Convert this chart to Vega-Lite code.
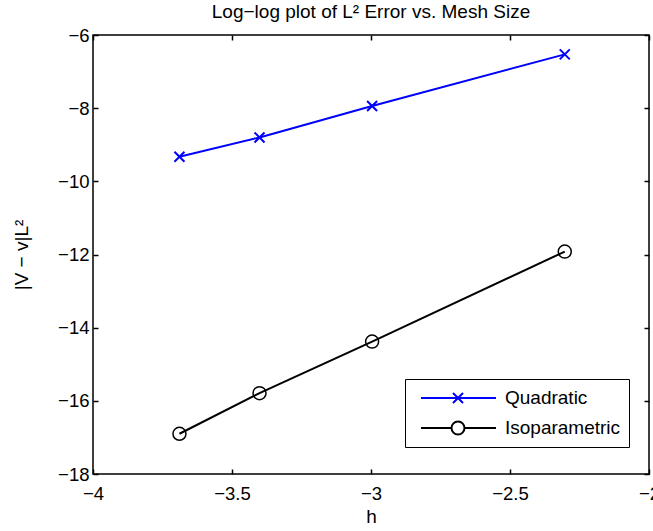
{
  "$schema": "https://vega.github.io/schema/vega-lite/v6.json",
  "width": 556,
  "height": 439,
  "autosize": {"type": "none"},
  "padding": {"left": 93, "top": 35, "right": 4, "bottom": 57},
  "background": "white",
  "config": {
    "font": "Liberation Sans",
    "view": {"stroke": "black", "strokeWidth": 1.5},
    "axis": {
      "grid": false,
      "domain": false,
      "tickColor": "black",
      "tickSize": -5,
      "tickWidth": 1.5,
      "labelColor": "black",
      "labelFontSize": 18.5,
      "labelFont": "Liberation Sans",
      "titleFont": "Liberation Sans",
      "titleFontSize": 19,
      "titleFontWeight": "normal",
      "titleColor": "black",
      "format": "~g"
    }
  },
  "title": {
    "text": "Log−log plot of L² Error vs. Mesh Size",
    "fontSize": 19,
    "fontWeight": "normal",
    "font": "Liberation Sans",
    "color": "black",
    "offset": 4
  },
  "data": {
    "values": [
      {"h": -3.689, "err": -9.33, "series": "Quadratic"},
      {"h": -3.401, "err": -8.80, "series": "Quadratic"},
      {"h": -2.996, "err": -7.94, "series": "Quadratic"},
      {"h": -2.303, "err": -6.53, "series": "Quadratic"},
      {"h": -3.689, "err": -16.90, "series": "Isoparametric"},
      {"h": -3.401, "err": -15.79, "series": "Isoparametric"},
      {"h": -2.996, "err": -14.38, "series": "Isoparametric"},
      {"h": -2.303, "err": -11.92, "series": "Isoparametric"}
    ]
  },
  "layer": [
    {
      "mark": {"type": "line", "strokeWidth": 2},
      "encoding": {
        "x": {"field": "h", "type": "quantitative", "scale": {"domain": [-4, -2], "nice": false, "zero": false},
              "axis": {"title": "h", "values": [-4, -3.5, -3, -2.5, -2], "labelPadding": 15, "titlePadding": 5, "labelFlush": false, "format": "~g"}},
        "y": {"field": "err", "type": "quantitative", "scale": {"domain": [-18, -6], "nice": false, "zero": false},
              "axis": {"title": "|V − v|L²", "values": [-18, -16, -14, -12, -10, -8, -6], "labelPadding": 9, "titlePadding": 26, "format": "~g"}},
        "color": {
          "field": "series", "type": "nominal",
          "scale": {"domain": ["Quadratic", "Isoparametric"], "range": ["#0000ff", "#000000"]},
          "legend": {
            "title": null,
            "orient": "none",
            "legendX": 312,
            "legendY": 344,
            "strokeColor": "black",
            "fillColor": "white",
            "padding": 8,
            "symbolSize": 400,
            "symbolStrokeWidth": 2,
            "symbolFillColor": "transparent",
            "labelFontSize": 19,
            "labelFont": "Liberation Sans",
            "labelColor": "black",
            "labelOffset": 70,
            "rowPadding": 9,
            "encode": {
              "symbols": {
                "update": {
                  "shape": {"signal": "datum.value == 'Quadratic' ? 'M-0.3,0H7.2M2.9,-0.5L3.9,0.5M2.9,0.5L3.9,-0.5' : 'M-0.3,0H2.75M4.05,0H7.2M2.75,0A0.65,0.65 0 1,0 4.05,0A0.65,0.65 0 1,0 2.75,0'"}
                }
              }
            }
          }
        }
      }
    },
    {
      "transform": [{"filter": "datum.series == 'Quadratic'"}],
      "mark": {"type": "point", "shape": "M-1,-1L1,1M-1,1L1,-1", "size": 100, "filled": false, "stroke": "#0000ff", "strokeWidth": 2, "opacity": 1},
      "encoding": {
        "x": {"field": "h", "type": "quantitative", "axis": null},
        "y": {"field": "err", "type": "quantitative", "axis": null}
      }
    },
    {
      "transform": [{"filter": "datum.series == 'Isoparametric'"}],
      "mark": {"type": "point", "shape": "circle", "size": 169, "filled": false, "stroke": "#000000", "strokeWidth": 1.5, "opacity": 1},
      "encoding": {
        "x": {"field": "h", "type": "quantitative", "axis": null},
        "y": {"field": "err", "type": "quantitative", "axis": null}
      }
    },
    {
      "mark": {"type": "point", "opacity": 0},
      "encoding": {
        "x": {"field": "h", "type": "quantitative",
              "axis": {"orient": "top", "title": null, "labels": false, "values": [-4, -3.5, -3, -2.5, -2]}},
        "y": {"field": "err", "type": "quantitative",
              "axis": {"orient": "right", "title": null, "labels": false, "values": [-18, -16, -14, -12, -10, -8, -6]}}
      }
    }
  ],
  "resolve": {"axis": {"x": "independent", "y": "independent"}}
}
